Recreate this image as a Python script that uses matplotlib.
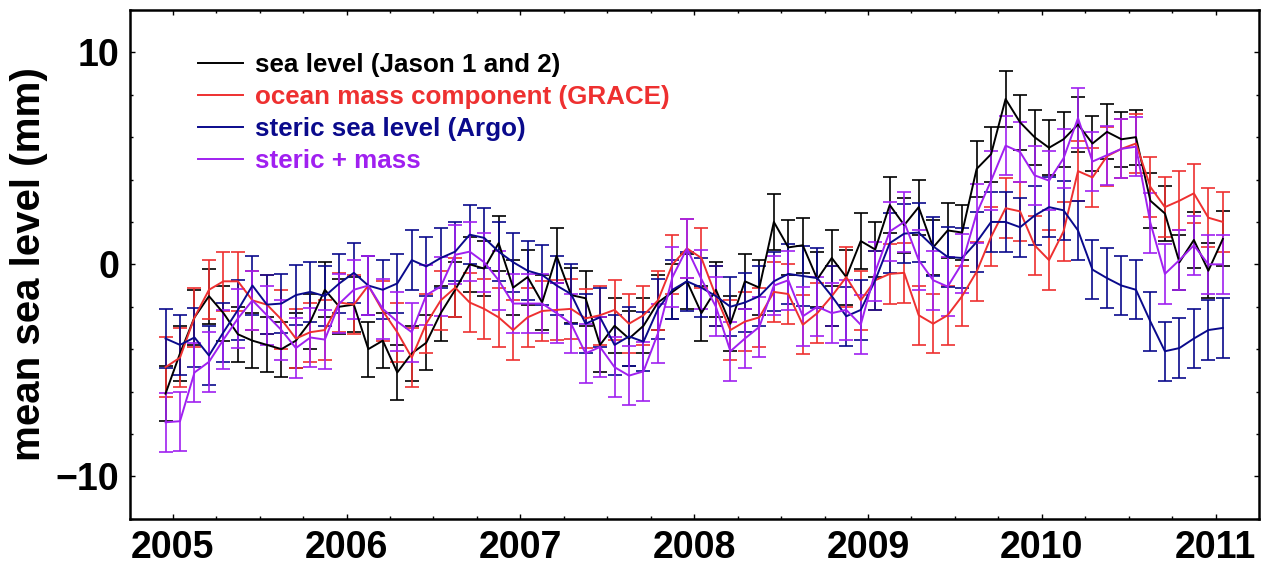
import numpy as np
import matplotlib.pyplot as plt
from matplotlib.ticker import MultipleLocator

plt.rcParams['font.family'] = ['Liberation Sans', 'DejaVu Sans']
plt.rcParams['font.weight'] = 'bold'

# monthly values, Dec 2004 .. Jan 2011 (mid-month), mm
months = 2004 + (np.arange(74) + 11.5) / 12

jason = [-6.1, -4.2, -2.5, -1.5, -2.3, -3.3, -3.6, -3.8, -4.0, -3.6, -2.7, -1.2,
         -2.0, -1.9, -4.0, -3.6, -5.1, -4.2, -3.7, -2.3, -1.2, 0.0, -0.2, 1.0,
         -1.1, -0.6, -1.8, 0.4, -1.45, -1.6, -3.8, -2.9, -3.5, -2.9, -1.8, -1.3,
         -0.8, -2.3, -1.2, -2.8, -0.8, -1.1, 2.0, 0.8, 0.9, -0.7, 0.3, -0.6,
         1.1, 0.7, 2.8, 1.85, 2.7, 0.8, 1.6, 1.5, 4.5, 5.2, 7.8, 6.7,
         6.0, 5.5, 5.9, 6.6, 5.7, 6.25, 5.9, 6.0, 3.0, 2.4, 0.1, 1.15,
         -0.3, 1.2]
grace = [-4.85, -4.4, -2.5, -1.2, -0.8, -0.8, -1.7, -1.9, -2.6, -3.5, -3.2, -3.1,
         -1.8, -1.9, -1.0, -2.2, -3.2, -4.4, -2.8, -1.7, -1.1, -1.8, -2.1, -2.5,
         -3.1, -2.5, -2.2, -2.15, -2.1, -2.55, -2.4, -2.15, -2.8, -2.4, -1.7, 0.0,
         0.75, 0.3, -1.5, -3.1, -2.7, -2.5, -1.3, -1.4, -2.85, -2.3, -1.5, -0.6,
         -1.7, -0.75, -0.45, -0.4, -2.4, -2.8, -2.4, -1.5, -0.35, 1.3, 2.65, 2.5,
         0.9, 0.2, 1.55, 4.4, 4.1, 5.1, 5.45, 5.7, 3.65, 2.7, 3.0, 3.35,
         2.2, 2.0]
argo = [-3.5, -3.8, -3.45, -4.3, -3.2, -2.15, -1.0, -1.9, -1.85, -1.45, -1.3, -1.5,
        -0.9, -0.4, -1.0, -1.2, -0.9, 0.2, -0.1, 0.3, 0.6, 1.4, 1.25, 0.6,
        0.1, -0.3, -0.5, -1.0, -1.4, -2.8, -2.5, -3.8, -3.4, -3.65, -2.1, -1.2,
        -0.8, -1.1, -1.5, -2.0, -1.8, -1.5, -0.8, -0.45, -0.55, -0.65, -1.5, -2.45,
        -2.15, -0.75, 1.0, 1.45, 1.5, 0.85, 0.35, 0.3, 1.05, 2.0, 2.0, 1.75,
        2.3, 2.7, 2.55, 1.6, -0.25, -0.65, -1.0, -1.2, -2.7, -4.1, -3.95, -3.5,
        -3.1, -3.0]
steric_mass = [-7.45, -7.4, -5.1, -4.6, -3.55, -2.55, -1.7, -2.4, -3.1, -3.95, -3.45, -3.55,
               -1.85, -1.2, -1.0, -2.1, -2.7, -3.2, -1.45, -1.05, 0.45, 0.6, 0.1, -0.75,
               -1.85, -1.85, -1.85, -2.3, -2.8, -4.2, -3.9, -4.85, -5.25, -5.05, -3.25, -0.6,
               0.75, -0.7, -2.0, -4.1, -3.5, -2.95, -1.0, -0.75, -2.45, -2.0, -2.3, -2.15,
               -2.85, -0.35, 1.55, 2.0, 0.2, -0.75, -1.05, 0.05, 2.4, 3.95, 5.6, 5.3,
               4.2, 3.95, 5.0, 6.9, 4.85, 5.15, 5.45, 5.55, 1.95, -0.45, 0.2, 0.9,
               0.0, 0.0]

# 1-sigma errors (mm)
err_jason = 1.3
err_grace = 1.4
err_argo = 1.4
err_sm = 1.4

labels = ['sea level (Jason 1 and 2)', 'ocean mass component (GRACE)',
          'steric sea level (Argo)', 'steric + mass']
colors = ['black', '#EE3030', '#0A0A8C', '#A020F0']

fig = plt.figure(figsize=(12.66, 5.64), dpi=100)
ax = fig.add_axes([0.1027, 0.0803, 0.8914, 0.902])

handles = []
for vals, err, col in zip([jason, grace, argo, steric_mass],
                          [err_jason, err_grace, err_argo, err_sm], colors):
    eb = ax.errorbar(months, vals, yerr=err, color=col, lw=1.4, elinewidth=1.2,
                     capsize=4.7, capthick=1.2)
    handles.append(eb.lines[0])

ax.set_xlim(2004.754, 2011.247)
ax.set_ylim(-12, 12)
ax.xaxis.set_major_locator(MultipleLocator(1))
ax.xaxis.set_minor_locator(MultipleLocator(0.25))
ax.yaxis.set_major_locator(MultipleLocator(10))
ax.yaxis.set_minor_locator(MultipleLocator(2))
ax.xaxis.set_major_formatter(plt.FuncFormatter(lambda v, p: '%d' % round(v)))
ax.tick_params(which='both', direction='in', top=True, right=True, width=1)
ax.tick_params(which='major', length=3.6, labelsize=27, pad=8)
ax.tick_params(which='minor', length=2.2)
for s in ax.spines.values():
    s.set_linewidth(1.8)

ax.set_ylabel('mean sea level (mm)', fontsize=29, fontweight='bold')
ax.yaxis.set_label_coords(-0.073, 0.5)

leg = ax.legend(handles, labels, loc='upper left', bbox_to_anchor=(0.0603, 0.915),
                frameon=False, fontsize=18.7, handlelength=1.73, handletextpad=0.46,
                labelspacing=0.31, borderpad=0, borderaxespad=0, labelcolor='linecolor')
for t in leg.get_texts():
    t.set_fontweight('bold')

fig.savefig('out.png', dpi=100)
